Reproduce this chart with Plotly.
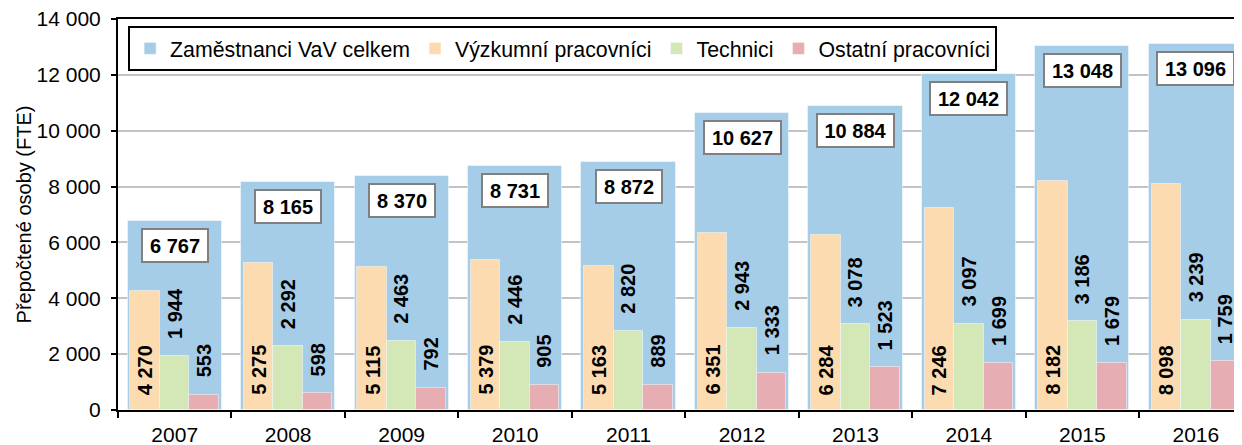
import plotly.graph_objects as go

years = ["2007", "2008", "2009", "2010", "2011", "2012", "2013", "2014", "2015", "2016"]
total = [6767, 8165, 8370, 8731, 8872, 10627, 10884, 12042, 13048, 13096]
research = [4270, 5275, 5115, 5379, 5163, 6351, 6284, 7246, 8182, 8098]
tech = [1944, 2292, 2463, 2446, 2820, 2943, 3078, 3097, 3186, 3239]
other = [553, 598, 792, 905, 889, 1333, 1523, 1699, 1679, 1759]

names = ["Zaměstnanci VaV celkem", "Výzkumní pracovníci", "Technici", "Ostatní pracovníci"]
colors = ["#a6cde8", "#fcdbb0", "#d4e7b7", "#e6aeb3"]

FONT = "Liberation Sans, Arial, sans-serif"
FS = 21


def fmt(v):
    return f"{v:,}".replace(",", " ")


fig = go.Figure()
edge = dict(color="rgba(255,255,255,0.45)", width=1)
fig.add_trace(go.Bar(x=years, y=total, name=names[0], marker=dict(color=colors[0], line=edge),
                     width=0.83, offset=-0.415))
sub = [(research, -0.39), (tech, -0.13), (other, 0.13)]
for k, (vals, off) in enumerate(sub):
    fig.add_trace(go.Bar(x=years, y=vals, name=names[k + 1],
                         marker=dict(color=colors[k + 1], line=edge),
                         width=0.26, offset=off))

lab_font = dict(family=FONT, size=20, color="black", weight="bold")
ann = []
for i in range(len(years)):
    txt = fmt(total[i])
    ndig = len(txt.replace(" ", ""))
    ann.append(dict(x=i, y=total[i], xref="x", yref="y", text=txt, showarrow=False,
                    yanchor="top", yshift=-7, bgcolor="white", bordercolor="#808080",
                    borderwidth=2, borderpad=5, width=11 * ndig + 10, height=21,
                    font=lab_font))
    ann.append(dict(x=i - 0.26, y=0, xref="x", yref="y", text=fmt(research[i]), showarrow=False,
                    textangle=-90, yanchor="bottom", yshift=13, font=lab_font))
    ann.append(dict(x=i, y=tech[i], xref="x", yref="y", text=fmt(tech[i]), showarrow=False,
                    textangle=-90, yanchor="bottom", yshift=15, font=lab_font))
    ann.append(dict(x=i + 0.26, y=other[i], xref="x", yref="y", text=fmt(other[i]), showarrow=False,
                    textangle=-90, yanchor="bottom", yshift=15, font=lab_font))

fig.update_layout(
    width=1242, height=445,
    margin=dict(l=110, r=8, t=11, b=43),
    barmode="overlay",
    bargap=0,
    plot_bgcolor="white", paper_bgcolor="white",
    separators=", ",
    font=dict(family=FONT, size=FS, color="black"),
    annotations=ann,
    showlegend=True,
    legend=dict(orientation="h", x=0.009, y=0.982, xanchor="left", yanchor="top",
                bgcolor="white", bordercolor="black", borderwidth=2,
                font=dict(family=FONT, size=21.3, color="black"),
                traceorder="normal"),
)
fig.update_xaxes(type="category", range=[-0.5, 9.407], showline=True, linecolor="black", linewidth=2,
                 mirror=True, ticks="outside", tickson="boundaries", ticklen=6, tickwidth=2,
                 tickcolor="black", showgrid=False, ticklabelstandoff=5, automargin=False,
                 tickfont=dict(family=FONT, size=FS, color="black"))
fig.update_yaxes(range=[0, 14000], dtick=2000, tickformat=",d", showline=True, linecolor="black",
                 linewidth=2, ticks="outside", ticklen=5, tickwidth=2, tickcolor="black",
                 showgrid=True, gridcolor="#c3c3c3", gridwidth=1.5, zeroline=False,
                 ticklabelstandoff=6, ticklabeloverflow="allow", automargin=False,
                 tickfont=dict(family=FONT, size=FS, color="black"),
                 title=dict(text="Přepočtené osoby (FTE)", standoff=0,
                            font=dict(family=FONT, size=20, color="black")))

fig.write_html("out.html")
